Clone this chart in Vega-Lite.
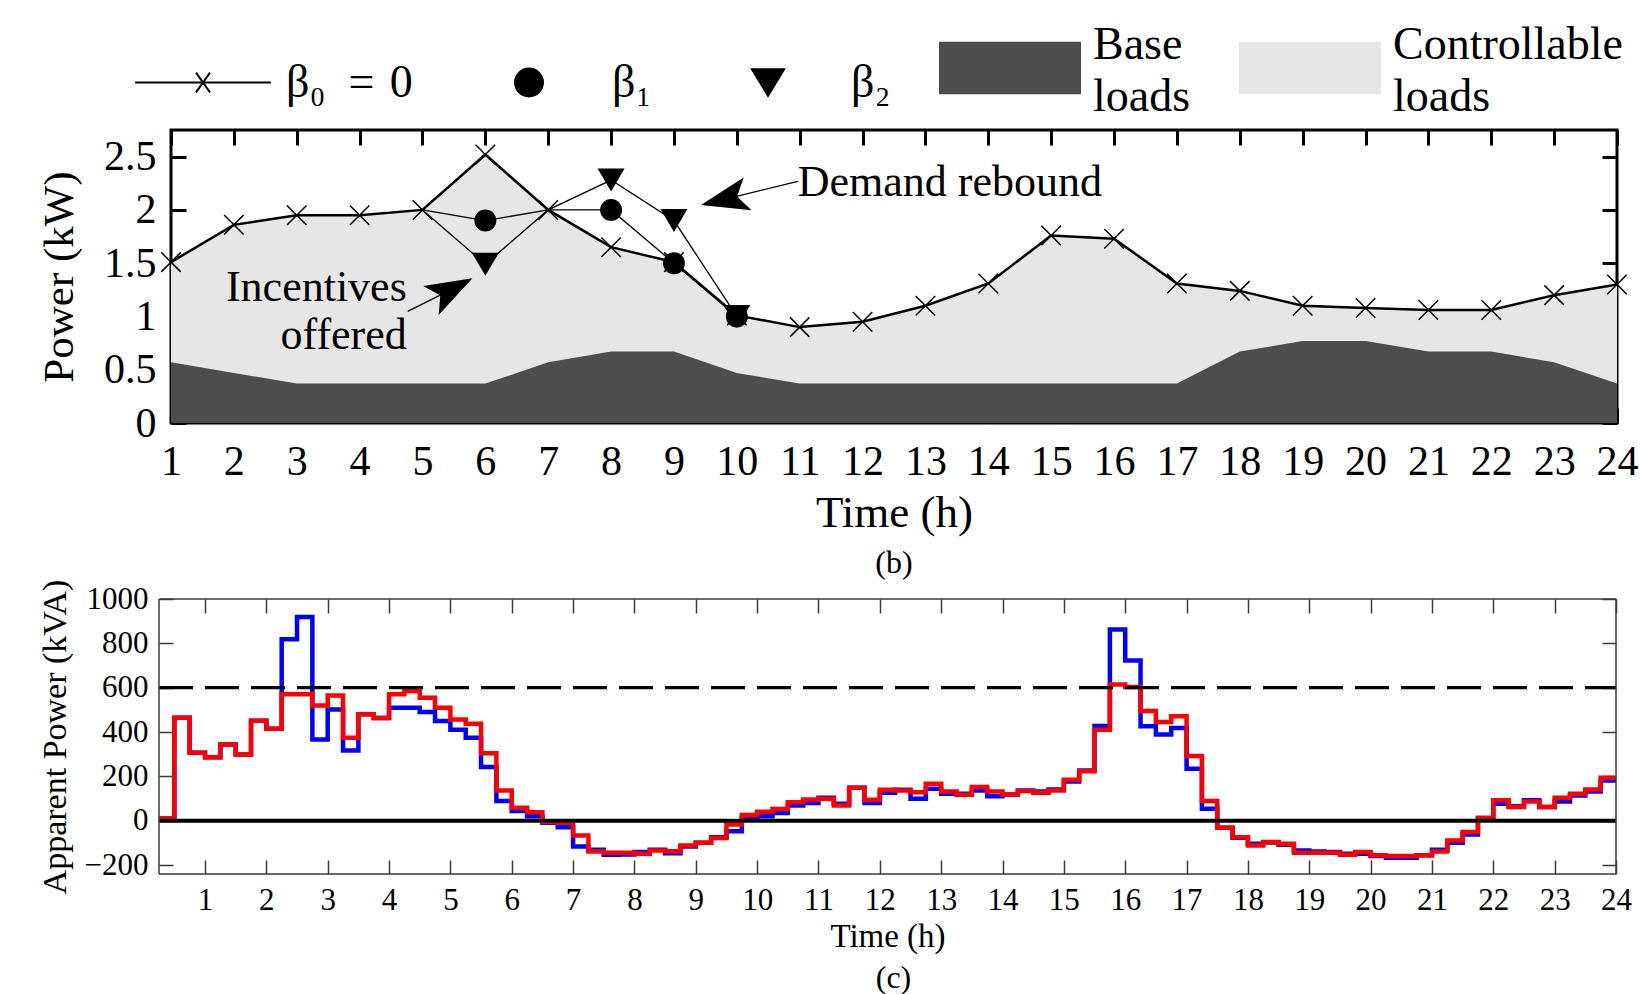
{
"$schema": "https://vega.github.io/schema/vega-lite/v6.json",
"padding": {"left": 37, "top": -3, "right": 0, "bottom": 0},
"background": "white",
"config": {
  "font": "Liberation Serif",
  "axis": {"labelFont": "Liberation Serif", "titleFont": "Liberation Serif", "labelColor": "black", "titleColor": "black", "titleFontWeight": "normal", "grid": false, "domain": false},
  "title": {"font": "Liberation Serif", "fontWeight": "normal", "color": "black"}
},
"datasets": {
  "top": [
    {"h":1,"base":0.57,"b0":1.51},{"h":2,"base":0.47,"b0":1.86},{"h":3,"base":0.37,"b0":1.95},{"h":4,"base":0.37,"b0":1.95},
    {"h":5,"base":0.37,"b0":2.0},{"h":6,"base":0.37,"b0":2.52},{"h":7,"base":0.57,"b0":2.0},{"h":8,"base":0.67,"b0":1.65},
    {"h":9,"base":0.67,"b0":1.51},{"h":10,"base":0.47,"b0":1.01},{"h":11,"base":0.37,"b0":0.9},{"h":12,"base":0.37,"b0":0.95},
    {"h":13,"base":0.37,"b0":1.1},{"h":14,"base":0.37,"b0":1.31},{"h":15,"base":0.37,"b0":1.76},{"h":16,"base":0.37,"b0":1.73},
    {"h":17,"base":0.37,"b0":1.31},{"h":18,"base":0.67,"b0":1.24},{"h":19,"base":0.77,"b0":1.1},{"h":20,"base":0.77,"b0":1.08},
    {"h":21,"base":0.67,"b0":1.06},{"h":22,"base":0.67,"b0":1.06},{"h":23,"base":0.57,"b0":1.2},{"h":24,"base":0.37,"b0":1.3}
  ],
  "bl": [
    {"s":"b1","h":5,"v":2.0,"m":0},{"s":"b1","h":6,"v":1.9,"m":1},{"s":"b1","h":7,"v":2.0,"m":0},{"s":"b1","h":8,"v":2.0,"m":1},{"s":"b1","h":9,"v":1.5,"m":1},{"s":"b1","h":10,"v":1.0,"m":1},
    {"s":"b2","h":5,"v":2.0,"m":0},{"s":"b2","h":6,"v":1.49,"m":1},{"s":"b2","h":7,"v":2.0,"m":0},{"s":"b2","h":8,"v":2.28,"m":1},{"s":"b2","h":9,"v":1.9,"m":1},{"s":"b2","h":10,"v":1.0,"m":1}
  ],
  "arr": [
    {"a":1,"h":4.765,"v":1.047},{"a":1,"h":5.465,"v":1.254},
    {"a":2,"h":10.97,"v":2.268},{"a":2,"h":9.80,"v":2.098}
  ],
  "ann": [
    {"a":1,"h":4.75,"v":1.142,"txt":"Incentives\noffered"},
    {"a":2,"h":10.97,"v":2.132,"txt":"Demand rebound"}
  ],
  "leg": [{"k":"b0"},{"k":"b1"},{"k":"b2"},{"k":"base"},{"k":"ctrl"}],
  "hedge": [{"y":1000},{"y":-240}],
  "vedge": [{"x":0.25},{"x":24}],
  "pw": [
    {"t":0.25,"a":10,"b":10},{"t":0.5,"a":465,"b":465},{"t":0.75,"a":307,"b":307},{"t":1,"a":287,"b":287},
    {"t":1.25,"a":344,"b":344},{"t":1.5,"a":299,"b":299},{"t":1.75,"a":451,"b":451},{"t":2,"a":415,"b":415},
    {"t":2.25,"a":818,"b":570},{"t":2.5,"a":919,"b":570},{"t":2.75,"a":367,"b":520},{"t":3,"a":502,"b":565},
    {"t":3.25,"a":317,"b":374},{"t":3.5,"a":480,"b":480},{"t":3.75,"a":463,"b":463},{"t":4,"a":510,"b":570},
    {"t":4.25,"a":510,"b":585},{"t":4.5,"a":490,"b":555},{"t":4.75,"a":450,"b":510},{"t":5,"a":410,"b":457},
    {"t":5.25,"a":374,"b":437},{"t":5.5,"a":242,"b":305},{"t":5.75,"a":89,"b":137},{"t":6,"a":44,"b":59},
    {"t":6.25,"a":20,"b":39},{"t":6.5,"a":-9,"b":-6},{"t":6.75,"a":-29,"b":-9},{"t":7,"a":-116,"b":-66},
    {"t":7.25,"a":-131,"b":-138},{"t":7.5,"a":-153,"b":-144},{"t":7.75,"a":-152,"b":-144},{"t":8,"a":-141,"b":-149},
    {"t":8.25,"a":-131,"b":-134},{"t":8.5,"a":-146,"b":-137},{"t":8.75,"a":-116,"b":-111},{"t":9,"a":-99,"b":-99},
    {"t":9.25,"a":-74,"b":-78},{"t":9.5,"a":-47,"b":-17},{"t":9.75,"a":12,"b":26},{"t":10,"a":20,"b":41},
    {"t":10.25,"a":35,"b":53},{"t":10.5,"a":69,"b":83},{"t":10.75,"a":80,"b":96},{"t":11,"a":104,"b":99},
    {"t":11.25,"a":77,"b":69},{"t":11.5,"a":149,"b":149},{"t":11.75,"a":80,"b":95},{"t":12,"a":126,"b":140},
    {"t":12.25,"a":140,"b":137},{"t":12.5,"a":99,"b":129},{"t":12.75,"a":144,"b":167},{"t":13,"a":122,"b":132},
    {"t":13.25,"a":122,"b":117},{"t":13.5,"a":137,"b":152},{"t":13.75,"a":111,"b":132},{"t":14,"a":119,"b":119},
    {"t":14.25,"a":137,"b":134},{"t":14.5,"a":132,"b":126},{"t":14.75,"a":141,"b":137},{"t":15,"a":177,"b":185},
    {"t":15.25,"a":227,"b":223},{"t":15.5,"a":427,"b":410},{"t":15.75,"a":862,"b":614},{"t":16,"a":723,"b":603},
    {"t":16.25,"a":426,"b":495},{"t":16.5,"a":389,"b":445},{"t":16.75,"a":418,"b":471},{"t":17,"a":235,"b":292},
    {"t":17.25,"a":54,"b":89},{"t":17.5,"a":-32,"b":-32},{"t":17.75,"a":-77,"b":-74},{"t":18,"a":-104,"b":-111},
    {"t":18.25,"a":-98,"b":-96},{"t":18.5,"a":-108,"b":-104},{"t":18.75,"a":-134,"b":-144},{"t":19,"a":-138,"b":-144},
    {"t":19.25,"a":-141,"b":-144},{"t":19.5,"a":-149,"b":-153},{"t":19.75,"a":-149,"b":-141},{"t":20,"a":-159,"b":-156},
    {"t":20.25,"a":-167,"b":-159},{"t":20.5,"a":-167,"b":-159},{"t":20.75,"a":-156,"b":-156},{"t":21,"a":-131,"b":-138},
    {"t":21.25,"a":-99,"b":-89},{"t":21.5,"a":-62,"b":-51},{"t":21.75,"a":12,"b":12},{"t":22,"a":77,"b":92},
    {"t":22.25,"a":65,"b":62},{"t":22.5,"a":92,"b":87},{"t":22.75,"a":62,"b":62},{"t":23,"a":87,"b":104},
    {"t":23.25,"a":114,"b":122},{"t":23.5,"a":132,"b":141},{"t":23.75,"a":182,"b":194},{"t":24,"a":182,"b":194}
  ]
},
"concat": [
  {
    "width": 1446, "height": 293,
    "view": {"stroke": "black", "strokeWidth": 3},
    "title": {"text": "(b)", "orient": "bottom", "fontSize": 32, "offset": 13},
    "layer": [
      {"data": {"name": "top"}, "mark": {"type": "area", "color": "#e6e6e6"},
       "encoding": {
         "x": {"field": "h", "type": "quantitative", "scale": {"domain": [1, 24], "nice": false, "zero": false},
               "axis": {"orient": "bottom", "values": [1,2,3,4,5,6,7,8,9,10,11,12,13,14,15,16,17,18,19,20,21,22,23,24], "tickSize": -15, "tickWidth": 3, "tickColor": "black", "labelFontSize": 42, "labelPadding": 33, "labelFlush": false, "labelOverlap": false, "title": "Time (h)", "titleFontSize": 45, "titlePadding": 8}},
         "y": {"field": "b0", "type": "quantitative", "stack": null, "scale": {"domain": [0, 2.75], "nice": false},
               "axis": {"orient": "left", "values": [0, 0.5, 1, 1.5, 2, 2.5], "format": "~g", "tickSize": -15, "tickWidth": 3, "tickColor": "black", "labelFontSize": 42, "labelPadding": 30, "title": "Power (kW)", "titleFontSize": 43, "titlePadding": 22}}
       }},
      {"data": {"name": "top"}, "mark": {"type": "area", "color": "#4d4d4d"},
       "encoding": {
         "x": {"field": "h", "type": "quantitative", "axis": {"orient": "top", "values": [1,2,3,4,5,6,7,8,9,10,11,12,13,14,15,16,17,18,19,20,21,22,23,24], "tickSize": -15, "tickWidth": 3, "tickColor": "black", "labels": false, "title": null}},
         "y": {"field": "base", "type": "quantitative", "stack": null, "axis": {"orient": "right", "values": [0, 0.5, 1, 1.5, 2, 2.5], "tickSize": -15, "tickWidth": 3, "tickColor": "black", "labels": false, "title": null}}
       }},
      {"data": {"name": "top"}, "mark": {"type": "line", "color": "black", "strokeWidth": 2.5},
       "encoding": {"x": {"field": "h", "type": "quantitative", "axis": null}, "y": {"field": "b0", "type": "quantitative", "axis": null}}},
      {"data": {"name": "top"}, "mark": {"type": "point", "shape": "M-1,-1L1,1M-1,1L1,-1", "size": 380, "stroke": "black", "strokeWidth": 1.5, "filled": false, "opacity": 1},
       "encoding": {"x": {"field": "h", "type": "quantitative", "axis": null}, "y": {"field": "b0", "type": "quantitative", "axis": null}}},
      {"data": {"name": "bl"}, "mark": {"type": "line", "color": "black", "strokeWidth": 1.3},
       "encoding": {"x": {"field": "h", "type": "quantitative", "axis": null}, "y": {"field": "v", "type": "quantitative", "axis": null}, "detail": {"field": "s"}}},
      {"data": {"name": "bl"}, "transform": [{"filter": "datum.s == 'b2' && datum.m == 1"}],
       "mark": {"type": "point", "shape": "M-1,-0.85L1,-0.85L0,0.85Z", "size": 729, "filled": true, "color": "black", "opacity": 1},
       "encoding": {"x": {"field": "h", "type": "quantitative", "axis": null}, "y": {"field": "v", "type": "quantitative", "axis": null}}},
      {"data": {"name": "bl"}, "transform": [{"filter": "datum.s == 'b1' && datum.m == 1"}],
       "mark": {"type": "circle", "size": 480, "color": "black", "opacity": 1},
       "encoding": {"x": {"field": "h", "type": "quantitative", "axis": null}, "y": {"field": "v", "type": "quantitative", "axis": null}}},
      {"data": {"name": "arr"}, "mark": {"type": "line", "color": "black", "strokeWidth": 1.3},
       "encoding": {"x": {"field": "h", "type": "quantitative", "axis": null}, "y": {"field": "v", "type": "quantitative", "axis": null}, "detail": {"field": "a"}}},
      {"data": {"name": "arr"}, "transform": [{"filter": "datum.a == 1"}, {"window": [{"op": "row_number", "as": "rn"}]}, {"filter": "datum.rn == 2"}],
       "mark": {"type": "point", "shape": "M1,0L-1,-0.7L-0.55,0L-1,0.7Z", "size": 2209, "angle": 332, "filled": true, "color": "black", "opacity": 1},
       "encoding": {"x": {"field": "h", "type": "quantitative", "axis": null}, "y": {"field": "v", "type": "quantitative", "axis": null}}},
      {"data": {"name": "arr"}, "transform": [{"filter": "datum.a == 2"}, {"window": [{"op": "row_number", "as": "rn"}]}, {"filter": "datum.rn == 2"}],
       "mark": {"type": "point", "shape": "M1,0L-1,-0.7L-0.55,0L-1,0.7Z", "size": 2304, "angle": 166.5, "filled": true, "color": "black", "opacity": 1},
       "encoding": {"x": {"field": "h", "type": "quantitative", "axis": null}, "y": {"field": "v", "type": "quantitative", "axis": null}}},
      {"data": {"name": "ann"}, "transform": [{"filter": "datum.a == 1"}],
       "mark": {"type": "text", "align": "right", "baseline": "alphabetic", "lineBreak": "\n", "lineHeight": 48, "fontSize": 44, "font": "Liberation Serif", "color": "black"},
       "encoding": {"x": {"field": "h", "type": "quantitative", "axis": null}, "y": {"field": "v", "type": "quantitative", "axis": null}, "text": {"field": "txt"}}},
      {"data": {"name": "ann"}, "transform": [{"filter": "datum.a == 2"}],
       "mark": {"type": "text", "align": "left", "baseline": "alphabetic", "fontSize": 44, "font": "Liberation Serif", "color": "black"},
       "encoding": {"x": {"field": "h", "type": "quantitative", "axis": null}, "y": {"field": "v", "type": "quantitative", "axis": null}, "text": {"field": "txt"}}},
      {"data": {"name": "leg"}, "mark": {"type": "point", "opacity": 0, "filled": true},
       "encoding": {
         "shape": {"field": "k", "type": "nominal", "scale": {"domain": ["b0","b1","b2","base","ctrl"], "range": ["M-0.97,0H0.97M-0.1,-0.14L0.1,0.14M-0.1,0.14L0.1,-0.14", "M-0.2,0A0.2,0.2,0,1,1,0.2,0A0.2,0.2,0,1,1,-0.2,0Z", "M-0.23,-0.19L0.23,-0.19L0,0.19Z", "M-1,-0.36H1V0.36H-1Z", "M-1,-0.36H1V0.36H-1Z"]},
                   "legend": {"title": null, "orient": "none", "legendX": -39, "legendY": -133, "direction": "horizontal", "symbolSize": 19600, "symbolStrokeWidth": 2, "symbolOpacity": 1, "labelFont": "Liberation Serif", "labelFontSize": 46, "labelColor": "black", "labelOffset": 12, "labelLimit": 400, "columnPadding": 45, "padding": 0, "labelBaseline": "middle", "labelExpr": "datum.value == 'b0' ? 'β₀\u2002=\u20040' : datum.value == 'b1' ? 'β₁' : datum.value == 'b2' ? 'β₂' : datum.value == 'base' ? ['Base', 'loads'] : ['Controllable', 'loads']", "encode": {"labels": {"update": {"lineHeight": {"value": 52}, "dy": {"signal": "datum.value == 'base' || datum.value == 'ctrl' ? -23 : 0"}}}}}},
         "fill": {"field": "k", "type": "nominal", "scale": {"domain": ["b0","b1","b2","base","ctrl"], "range": ["transparent", "black", "black", "#4d4d4d", "#e6e6e6"]},
                   "legend": {"title": null, "orient": "none", "legendX": -39, "legendY": -133, "direction": "horizontal", "symbolSize": 19600, "symbolStrokeWidth": 2, "symbolOpacity": 1, "labelFont": "Liberation Serif", "labelFontSize": 46, "labelColor": "black", "labelOffset": 12, "labelLimit": 400, "columnPadding": 45, "padding": 0, "labelBaseline": "middle", "labelExpr": "datum.value == 'b0' ? 'β₀\u2002=\u20040' : datum.value == 'b1' ? 'β₁' : datum.value == 'b2' ? 'β₂' : datum.value == 'base' ? ['Base', 'loads'] : ['Controllable', 'loads']", "encode": {"labels": {"update": {"lineHeight": {"value": 52}, "dy": {"signal": "datum.value == 'base' || datum.value == 'ctrl' ? -23 : 0"}}}}}},
         "stroke": {"field": "k", "type": "nominal", "scale": {"domain": ["b0","b1","b2","base","ctrl"], "range": ["black", "black", "black", "#4d4d4d", "#e6e6e6"]},
                   "legend": {"title": null, "orient": "none", "legendX": -39, "legendY": -133, "direction": "horizontal", "symbolSize": 19600, "symbolStrokeWidth": 2, "symbolOpacity": 1, "labelFont": "Liberation Serif", "labelFontSize": 46, "labelColor": "black", "labelOffset": 12, "labelLimit": 400, "columnPadding": 45, "padding": 0, "labelBaseline": "middle", "labelExpr": "datum.value == 'b0' ? 'β₀\u2002=\u20040' : datum.value == 'b1' ? 'β₁' : datum.value == 'b2' ? 'β₂' : datum.value == 'base' ? ['Base', 'loads'] : ['Controllable', 'loads']", "encode": {"labels": {"update": {"lineHeight": {"value": 52}, "dy": {"signal": "datum.value == 'base' || datum.value == 'ctrl' ? -23 : 0"}}}}}}
       }}
    ],
    "resolve": {"axis": {"x": "independent", "y": "independent"}}
  },
  {
    "width": 1445, "height": 275,
    "view": {"stroke": null},
    "title": {"text": "(c)", "orient": "bottom", "fontSize": 32, "offset": 10},
    "layer": [
      {"data": {"name": "pw"}, "mark": {"type": "line", "interpolate": "step-after", "strokeWidth": 4.5, "color": "#0000ff"},
       "encoding": {
         "x": {"field": "t", "type": "quantitative", "scale": {"domain": [0.25, 24], "range": [-12, 1445], "nice": false, "zero": false},
               "axis": {"orient": "bottom", "values": [1,2,3,4,5,6,7,8,9,10,11,12,13,14,15,16,17,18,19,20,21,22,23,24], "tickSize": -14, "tickWidth": 1.5, "tickColor": "#3a3a3a", "labelFontSize": 31, "labelPadding": 25, "labelFlush": false, "labelOverlap": false, "title": "Time (h)", "titleFontSize": 33, "titlePadding": 5}},
         "y": {"field": "a", "type": "quantitative", "scale": {"domain": [-240, 1000], "nice": false, "zero": false},
               "axis": {"orient": "left", "offset": 12, "values": [-200, 0, 200, 400, 600, 800, 1000], "format": "d", "tickSize": -14, "tickWidth": 1.5, "tickColor": "#3a3a3a", "labelFontSize": 31, "labelPadding": 25, "title": "Apparent Power (kVA)", "titleFontSize": 34, "titlePadding": 12}}
       }},
      {"data": {"name": "pw"}, "mark": {"type": "line", "interpolate": "step-after", "strokeWidth": 4.5, "color": "#ff0000"},
       "encoding": {
         "x": {"field": "t", "type": "quantitative", "axis": {"orient": "top", "values": [1,2,3,4,5,6,7,8,9,10,11,12,13,14,15,16,17,18,19,20,21,22,23,24], "tickSize": -14, "tickWidth": 1.5, "tickColor": "#3a3a3a", "labels": false, "title": null}},
         "y": {"field": "b", "type": "quantitative", "axis": {"orient": "right", "values": [-200, 0, 200, 400, 600, 800, 1000], "tickSize": -14, "tickWidth": 1.5, "tickColor": "#3a3a3a", "labels": false, "title": null}}
       }},
      {"data": {"values": [{}]}, "mark": {"type": "rule", "strokeDash": [34, 12], "strokeWidth": 3.3, "color": "black"},
       "encoding": {"x": {"datum": 0.25, "axis": null}, "x2": {"datum": 24}, "y": {"datum": 600, "axis": null}}},
      {"data": {"values": [{}]}, "mark": {"type": "rule", "strokeWidth": 4, "color": "black"},
       "encoding": {"x": {"datum": 0.25, "axis": null}, "x2": {"datum": 24}, "y": {"datum": 0, "axis": null}}},
      {"data": {"name": "hedge"}, "mark": {"type": "rule", "strokeWidth": 1.5, "color": "#3a3a3a"},
       "encoding": {"x": {"datum": 0.25, "axis": null}, "x2": {"datum": 24}, "y": {"field": "y", "type": "quantitative", "axis": null}}},
      {"data": {"name": "vedge"}, "mark": {"type": "rule", "strokeWidth": 1.5, "color": "#3a3a3a"},
       "encoding": {"x": {"field": "x", "type": "quantitative", "axis": null}, "y": {"datum": -240, "axis": null}, "y2": {"datum": 1000}}}
    ],
    "resolve": {"axis": {"x": "independent", "y": "independent"}}
  }
],
"columns": 1,
"align": "none",
"spacing": -2
}
